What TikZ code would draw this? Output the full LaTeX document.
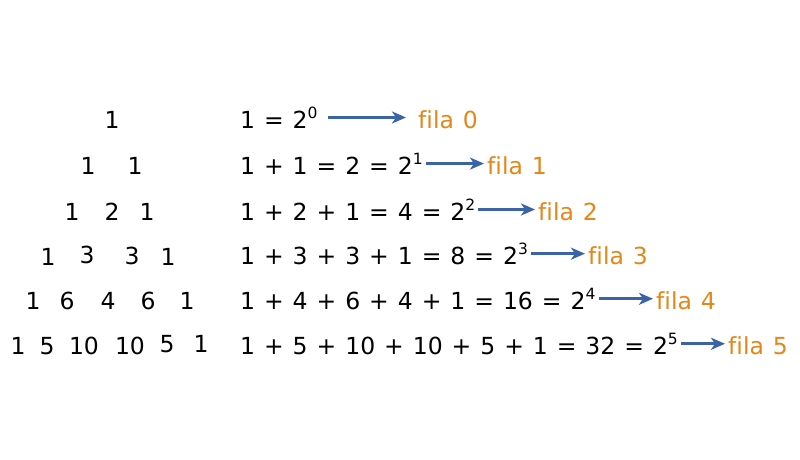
\documentclass[tikz,border=0pt]{standalone}
\usepackage{fontspec}
\setmainfont[Ligatures=NoCommon,WordSpace=1.2]{DejaVu Sans}
\usetikzlibrary{arrows.meta}
\definecolor{filaorange}{RGB}{228,134,24}
\definecolor{flechablue}{RGB}{58,100,165}
\newcommand{\pot}[1]{\raisebox{9.5pt}{\fontsize{15.5}{15.5}\selectfont #1}}
\tikzset{num/.style={anchor=base,inner sep=0pt},
  suma/.style={anchor=base west,inner sep=0pt},
  fila/.style={anchor=base west,inner sep=0pt,text=filaorange},
  flecha/.style={draw=flechablue,line width=2.8pt,shorten <=3pt,shorten >=3pt,-{Stealth[length=14pt,width=12pt,inset=4pt]}}}

\begin{document}
\begin{tikzpicture}[x=1pt,y=-1pt,font=\fontsize{23.5}{27}\selectfont]
  \useasboundingbox (0,0) rectangle (800,460);
  % triangulo de Pascal
  \node[num] (t00) at (112,128) {1};
  \node[num] (t10) at (88,174) {1}; \node[num] (t11) at (135,174) {1};
  \node[num] (t20) at (72,220) {1}; \node[num] (t21) at (112,220) {2}; \node[num] (t22) at (147,220) {1};
  \node[num] (t30) at (48,265) {1}; \node[num] (t31) at (87,263) {3}; \node[num] (t32) at (132,264) {3}; \node[num] (t33) at (168,265) {1};
  \node[num] (t40) at (33,309) {1}; \node[num] (t41) at (67,309) {6}; \node[num] (t42) at (108,309) {4}; \node[num] (t43) at (148,309) {6}; \node[num] (t44) at (187,309) {1};
  \node[num] (t50) at (18,354) {1}; \node[num] (t51) at (47,354) {5}; \node[num] (t52) at (84,354) {10}; \node[num] (t53) at (130,354) {10}; \node[num] (t54) at (167,352) {5}; \node[num] (t55) at (201,352) {1};
  % sumas de cada fila
  \node[suma] (s0) at (240,128) {1 = 2\pot{0}};
  \node[suma] (s1) at (240,174) {1 + 1 = 2 = 2\pot{1}};
  \node[suma] (s2) at (240,220) {1 + 2 + 1 = 4 = 2\pot{2}};
  \node[suma] (s3) at (240,264) {1 + 3 + 3 + 1 = 8 = 2\pot{3}};
  \node[suma] (s4) at (240,309) {1 + 4 + 6 + 4 + 1 = 16 = 2\pot{4}};
  \node[suma] (s5) at (240,354) {1 + 5 + 10 + 10 + 5 + 1 = 32 = 2\pot{5}};
  \node[fila] (f0) at (418,128) {fila 0}; \node[fila] (f1) at (487,174) {fila 1};
  \node[fila] (f2) at (538,220) {fila 2}; \node[fila] (f3) at (588,264) {fila 3};
  \node[fila] (f4) at (656,309) {fila 4}; \node[fila] (f5) at (728,354) {fila 5};
  \draw[flecha,shorten <=10pt,shorten >=12pt] (s0.east) -- (s0.east -| f0.west);
  \draw[flecha] (s1.east) -- (s1.east -| f1.west); \draw[flecha] (s2.east) -- (s2.east -| f2.west);
  \draw[flecha] (s3.east) -- (s3.east -| f3.west); \draw[flecha] (s4.east) -- (s4.east -| f4.west);
  \draw[flecha] (s5.east) -- (s5.east -| f5.west);
\end{tikzpicture}
\end{document}
